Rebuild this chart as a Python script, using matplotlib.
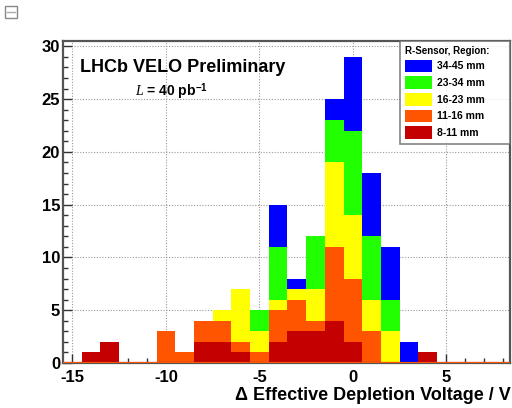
import matplotlib
matplotlib.use("Agg")
import matplotlib.pyplot as plt
from matplotlib.patches import Rectangle, Patch
from matplotlib.ticker import MultipleLocator

plt.rcParams['font.family'] = ['Liberation Sans', 'DejaVu Sans']
plt.rcParams['axes.unicode_minus'] = False
plt.rcParams['mathtext.fontset'] = 'custom'
plt.rcParams['mathtext.rm'] = 'Liberation Sans:bold'
plt.rcParams['mathtext.it'] = 'Liberation Serif:italic'
plt.rcParams['mathtext.bf'] = 'Liberation Sans:bold'

# bin centres (1 V wide bins)
bins = [-14, -13, -12, -11, -10, -9, -8, -7, -6, -5, -4, -3, -2, -1, 0, 1, 2, 3, 4]
r8_11  = [1, 2, 0, 0, 0, 0, 2, 2, 1, 0, 2, 3, 3, 4, 2, 0, 0, 0, 1]
r11_16 = [0, 0, 0, 0, 3, 1, 2, 2, 1, 1, 3, 3, 1, 7, 6, 3, 0, 0, 0]
r16_23 = [0, 0, 0, 0, 0, 0, 0, 1, 5, 2, 1, 1, 3, 8, 6, 3, 3, 0, 0]
r23_34 = [0, 0, 0, 0, 0, 0, 0, 0, 0, 2, 5, 0, 5, 4, 8, 6, 3, 0, 0]
r34_45 = [0, 0, 0, 0, 0, 0, 0, 0, 0, 0, 4, 1, 0, 2, 7, 6, 5, 2, 0]

series = [
    ("8-11 mm", r8_11, "#c40000"),
    ("11-16 mm", r11_16, "#ff5500"),
    ("16-23 mm", r16_23, "#ffff00"),
    ("23-34 mm", r23_34, "#22ff00"),
    ("34-45 mm", r34_45, "#0000ff"),
]

fig = plt.figure(figsize=(5.12, 4.08), dpi=100)
ax = fig.add_axes([63/512, 1-363/408, (510-63)/512, (363-41)/408])

bottom = [0]*len(bins)
for label, vals, col in series:
    ax.bar(bins, vals, width=1.0, bottom=bottom, color=col, linewidth=0, zorder=2)
    bottom = [b+v for b, v in zip(bottom, vals)]

ax.axhline(0, color="#ff5500", lw=1.5, zorder=3)

ax.set_xlim(-15.5, 8.4)
ax.set_ylim(0, 30.5)
ax.xaxis.set_major_locator(MultipleLocator(5))
ax.xaxis.set_minor_locator(MultipleLocator(1))
ax.yaxis.set_major_locator(MultipleLocator(5))
ax.yaxis.set_minor_locator(MultipleLocator(1))
ax.tick_params(which='both', direction='in', colors='#333333', labelcolor='black',
               labelsize=12, top=False, right=False)
ax.tick_params(which='major', length=6.5, width=1)
ax.tick_params(which='minor', length=3.5, width=1)
ax.tick_params(axis='x', pad=5)
ax.tick_params(axis='y', pad=2)
for lab in ax.get_xticklabels() + ax.get_yticklabels():
    lab.set_fontweight('bold')
ax.grid(True, which='major', linestyle=(0, (1, 1.5)), color='#999999', lw=0.8, zorder=0)
ax.set_axisbelow(True)
for s in ['left', 'top', 'right', 'bottom']:
    ax.spines[s].set_color('#555555')
    ax.spines[s].set_linewidth(1.6)

fig.text(80/512, 1-68/408, "LHCb VELO Preliminary", fontsize=13,
         fontweight='bold', va='center', ha='left')
fig.text(171/512, 1-92/408, r"$\mathit{L}$ = 40 pb$^{\mathrm{-1}}$", fontsize=10,
         fontweight='bold', ha='center', va='center')

handles = [Patch(facecolor=c, edgecolor='none', label=l) for l, v, c in series][::-1]
x0 = (400-63)/447
leg = ax.legend(handles=handles, loc='upper left', bbox_to_anchor=(x0, 0.0, 1.0-x0, 1.0),
                mode='expand',
                title="R-Sensor, Region:", fontsize=7.5, title_fontsize=7,
                frameon=True, fancybox=False, borderaxespad=0,
                handlelength=2.6, handleheight=1.5, labelspacing=0.38,
                handletextpad=0.5, borderpad=0.45, alignment='left')
leg.get_title().set_fontweight('bold')
for t in leg.get_texts():
    t.set_fontweight('bold')
leg.get_frame().set_edgecolor('#666666')
leg.get_frame().set_linewidth(1.2)
leg.set_zorder(5)

fig.text(511/512, 1-395/408, "\u0394 Effective Depletion Voltage / V", fontsize=13,
         fontweight='bold', ha='right', va='center')

# small page icon at top-left
fig.patches.append(Rectangle((5/512, 1-18/408), 12/512, 12/408, transform=fig.transFigure,
                             facecolor='white', edgecolor='#888888', lw=1))
fig.lines.append(plt.Line2D([7/512, 15/512], [1-12/408, 1-12/408], transform=fig.transFigure,
                            color='#aaaaaa', lw=1))

fig.savefig("out.png", dpi=100)
